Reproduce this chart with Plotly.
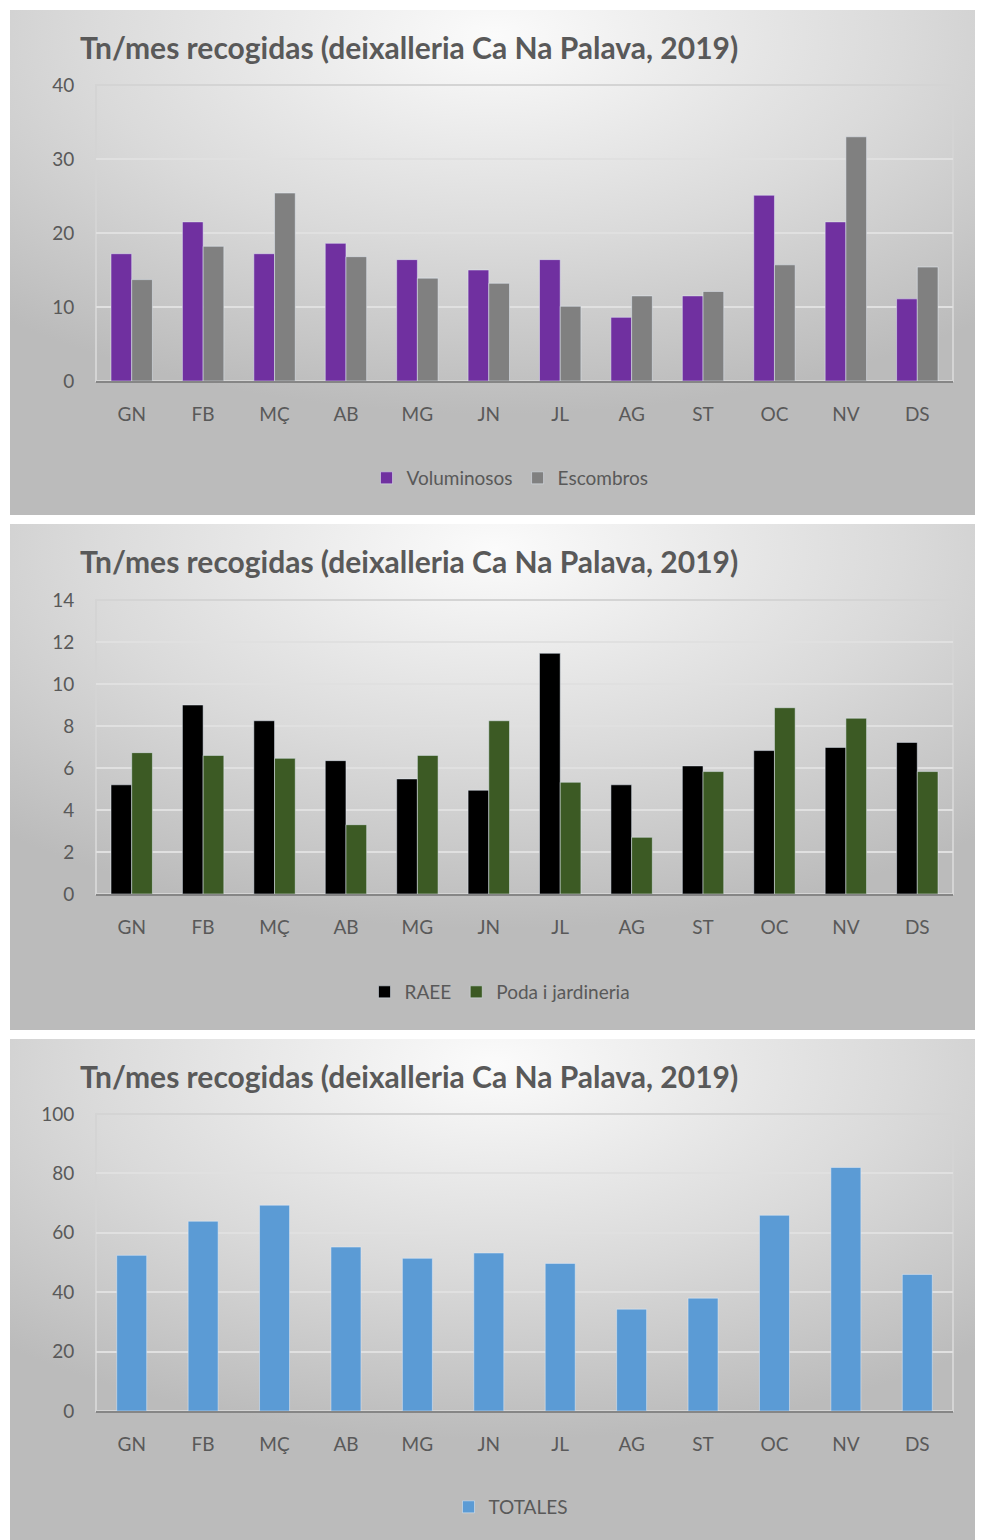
import base64
import plotly.graph_objects as go

months = ["GN", "FB", "MÇ", "AB", "MG", "JN", "JL", "AG", "ST", "OC", "NV", "DS"]
voluminosos = [17.2, 21.5, 17.2, 18.6, 16.4, 15.0, 16.4, 8.6, 11.5, 25.1, 21.5, 11.1]
escombros = [13.7, 18.2, 25.4, 16.8, 13.9, 13.2, 10.1, 11.5, 12.1, 15.7, 33.0, 15.4]
raee = [5.2, 9.0, 8.25, 6.35, 5.48, 4.94, 11.46, 5.2, 6.1, 6.83, 6.98, 7.22]
poda = [6.73, 6.6, 6.46, 3.3, 6.6, 8.25, 5.32, 2.7, 5.83, 8.87, 8.37, 5.83]
totales = [52.4, 63.9, 69.3, 55.2, 51.4, 53.2, 49.7, 34.3, 38.0, 65.9, 82.0, 46.0]
title_text = "Tn/mes recogidas (deixalleria Ca Na Palava, 2019)"

OFF = 8  # page body margin
W, H = 983 - OFF, 1540 - OFF
FONT = "Lato, Open Sans, sans-serif"
TICK_COLOR = "#595959"


def px_x(x):
    return (x - OFF) / W


def px_y(y):
    return 1 - (y - OFF) / H


fig = go.Figure()

fig.add_trace(go.Bar(x=months, y=voluminosos, name="Voluminosos", marker_color="#7030a0",
                     xaxis="x", yaxis="y", legend="legend"))
fig.add_trace(go.Bar(x=months, y=escombros, name="Escombros", marker_color="#808080",
                     xaxis="x", yaxis="y", legend="legend"))
fig.add_trace(go.Bar(x=months, y=raee, name="RAEE", marker_color="#000000",
                     xaxis="x2", yaxis="y2", legend="legend2"))
fig.add_trace(go.Bar(x=months, y=poda, name="Poda i jardineria", marker_color="#3c5a24",
                     xaxis="x2", yaxis="y2", legend="legend2"))
fig.add_trace(go.Bar(x=months, y=totales, name="TOTALES", marker_color="#5b9bd5",
                     xaxis="x3", yaxis="y3", legend="legend3"))

panels = [
    dict(ptop=10, pbot=515, atop=85, abot=381, rng=[0, 40], dtick=10),
    dict(ptop=524, pbot=1030, atop=600, abot=894, rng=[0, 14], dtick=2),
    dict(ptop=1039, pbot=1540, atop=1114, abot=1411, rng=[0, 100], dtick=20),
]
AX_L, AX_R = 96, 953
PANEL_L, PANEL_R = 10, 1000

svg = (
    '<svg xmlns="http://www.w3.org/2000/svg" width="990" height="505" viewBox="0 0 990 505" preserveAspectRatio="none">'
    '<defs><radialGradient id="g" cx="49%" cy="5%" r="75%" fx="49%" fy="5%">'
    '<stop offset="0" stop-color="#fbfbfb"/><stop offset="0.55" stop-color="#dadada"/>'
    '<stop offset="1" stop-color="#bbbbbb"/></radialGradient></defs>'
    '<rect x="0" y="0" width="990" height="505" fill="url(#g)"/></svg>'
)
src = "data:image/svg+xml;base64," + base64.b64encode(svg.encode()).decode()

images = []
shapes = []
annotations = []
layout_axes = {}
for i, p in enumerate(panels):
    sfx = "" if i == 0 else str(i + 1)
    images.append(dict(source=src, xref="paper", yref="paper", x=px_x(PANEL_L), y=px_y(p["ptop"]),
                       sizex=(PANEL_R - PANEL_L) / W, sizey=(p["pbot"] - p["ptop"]) / H,
                       sizing="stretch", layer="below", xanchor="left", yanchor="top"))
    shapes.append(dict(type="rect", xref="paper", yref="paper", x0=px_x(AX_L), x1=px_x(AX_R),
                       y0=px_y(p["abot"]), y1=px_y(p["atop"]), line=dict(color="#d4d4d4", width=2),
                       fillcolor="rgba(0,0,0,0)", layer="below"))
    annotations.append(dict(text="<b>" + title_text + "</b>", xref="paper", yref="paper",
                            x=px_x(78), y=px_y(p["ptop"] + 37), xanchor="left", yanchor="middle",
                            showarrow=False, font=dict(family=FONT, size=30, color="#595959")))
    layout_axes["xaxis" + sfx] = dict(domain=[px_x(AX_L), px_x(AX_R)], anchor="y" + sfx,
                                      showgrid=False, showline=True, linecolor="#868686", linewidth=2,
                                      tickfont=dict(family=FONT, size=19, color=TICK_COLOR),
                                      ticks="outside", ticklen=15, tickcolor="rgba(0,0,0,0)",
                                      fixedrange=True)
    layout_axes["yaxis" + sfx] = dict(domain=[px_y(p["abot"]), px_y(p["atop"])], anchor="x" + sfx,
                                      range=p["rng"], dtick=p["dtick"], showgrid=True,
                                      gridcolor="#e0e0e0", gridwidth=2, zeroline=False,
                                      showline=False,
                                      tickfont=dict(family=FONT, size=19, color=TICK_COLOR),
                                      ticks="outside", ticklen=17, tickcolor="rgba(0,0,0,0)",
                                      fixedrange=True)

legend_common = dict(orientation="h", xanchor="center", yanchor="middle", bgcolor="rgba(0,0,0,0)",
                     font=dict(family=FONT, size=19, color=TICK_COLOR), xref="paper", yref="paper",
                     itemwidth=30)

fig.update_layout(
    width=W, height=H,
    margin=dict(l=0, r=0, t=0, b=0, autoexpand=False),
    paper_bgcolor="white", plot_bgcolor="white",
    barmode="group",
    bargap=0.42, bargroupgap=0.0,
    showlegend=True,
    images=images, shapes=shapes, annotations=annotations,
    legend=dict(legend_common, x=px_x(510), y=px_y(478)),
    legend2=dict(legend_common, x=px_x(500), y=px_y(992)),
    legend3=dict(legend_common, x=px_x(511), y=px_y(1507)),
    **layout_axes,
)
fig.data[4].update(width=0.42)

fig.write_html("out.html")
